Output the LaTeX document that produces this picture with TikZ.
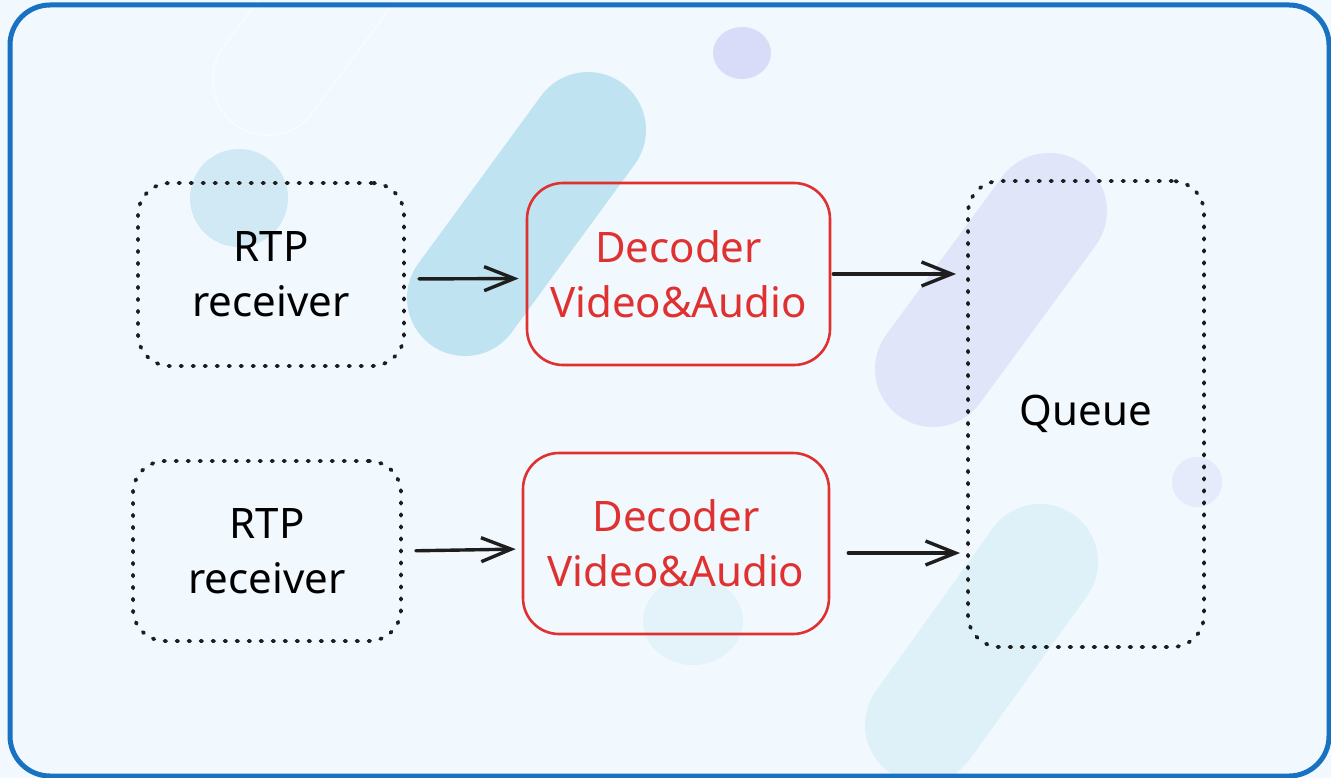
\documentclass[tikz,border=0pt]{standalone}
\usepackage{fontspec}
\setmainfont{Noto Sans}
\usetikzlibrary{arrows.meta}

\definecolor{paper}{HTML}{F1F8FE}
\definecolor{frame}{HTML}{1971C2}
\definecolor{ink}{HTML}{1E1E1E}
\definecolor{alert}{HTML}{E03131}
\definecolor{skyA}{HTML}{BFE3F1}
\definecolor{skyB}{HTML}{D0E9F5}
\definecolor{skyC}{HTML}{DEF1F8}
\definecolor{skyD}{HTML}{E4F3FA}
\definecolor{lilacA}{HTML}{E1E5F9}
\definecolor{lilacB}{HTML}{D9DCF8}
\definecolor{lilacC}{HTML}{E6EBFB}

\begin{document}
\begin{tikzpicture}[
   x=1pt,y=-1pt,
   every node/.style={font=\fontsize{42}{55}\selectfont, align=center, inner sep=0pt},
   stage/.style={draw=ink, line width=3.8pt, line cap=round,
                 dash pattern=on 1.6pt off 10.4pt, rounded corners=32pt},
   codec/.style={draw=alert, text=alert, line width=2.6pt, rounded corners=36pt},
   link/.style={draw=ink, line width=3.4pt, line cap=round,
                -{Straight Barb[length=30pt,width=24pt]}},
   blob/.style={line width=116pt, line cap=round}
 ]
  \useasboundingbox (0,0) rectangle (1331,778);
  \fill[paper] (0,0) rectangle (1331,778);

  % soft shapes in the back
  \draw[blob, line width=112pt, paper!35!white] (268,80) -- (386,-80);
  \draw[blob, line width=109pt, paper] (268,80) -- (386,-80);
  \draw[blob, skyA] (465,298) -- (588,130);
  \draw[blob, lilacA] (933,369) -- (1049,211);
  \draw[blob, skyC] (923,725) -- (1040,562);
  \fill[skyB] (239,198) circle [radius=49pt];
  \fill[lilacB] (742,53) ellipse [x radius=29pt, y radius=26pt];
  \fill[lilacC] (1197,482) circle [radius=25pt];
  \fill[skyD] (693,621) ellipse [x radius=50pt, y radius=44pt];

  % frame
  \draw[frame, line width=5pt, rounded corners=40pt] (10,5) rectangle (1329,776);

  % blocks
  \node[stage, minimum width=266pt, minimum height=183pt] (rtpA) at (271,274.5) {RTP\\receiver};
  \node[stage, minimum width=268pt, minimum height=180pt] (rtpB) at (267,551) {RTP\\receiver};
  \node[codec, minimum width=303pt, minimum height=182pt] (decA) at (678.5,274) {Decoder\\Video\&Audio};
  \node[codec, minimum width=306pt, minimum height=181pt] (decB) at (676,543.5) {Decoder\\Video\&Audio};
  \node[stage, minimum width=236pt, minimum height=466pt] (queue) at (1086,414) {Queue};

  % flow
  \draw[link, shorten <=13pt, shorten >=7pt] ([yshift=-4.5pt]rtpA.east) -- ([yshift=-4.5pt]decA.west);
  \draw[link, shorten <=2pt, shorten >=10pt] (decA.east) -- (decA.east -| queue.west);
  \draw[link, shorten <=13pt, shorten >=6pt] (rtpB.east) -- ([yshift=-5.5pt]decB.west);
  \draw[link, shorten <=18pt, shorten >=6pt] ([yshift=-9.5pt]decB.east) -- ([yshift=-9.5pt]decB.east -| queue.west);
\end{tikzpicture}
\end{document}
